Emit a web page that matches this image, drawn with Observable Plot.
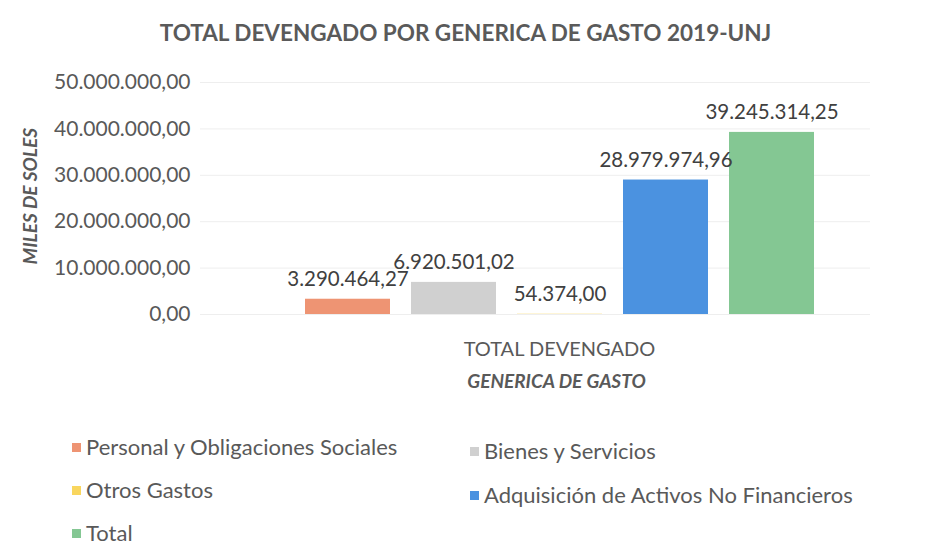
<!DOCTYPE html>
<html>
<head>
<meta charset="utf-8">
<script src="https://cdn.jsdelivr.net/npm/d3@7"></script>
<script src="https://cdn.jsdelivr.net/npm/@observablehq/plot@0.6"></script>
<style>
  html, body { margin: 0; padding: 0; background: #fff; }
  body { width: 951px; height: 557px; overflow: hidden; font-family: Lato, "Open Sans", sans-serif; color: #595959; }
  #title { height: 58px; line-height: 66px; text-align: center; font-size: 22.5px; font-weight: bold; color: #5a5a5a; padding-right: 20px; }
  #chart svg { display: block; }
  #legend { position: relative; height: 149px; }
  .item { position: absolute; display: flex; align-items: center; font-size: 22px; line-height: 26px; color: #595959; white-space: nowrap; }
  .sw { width: 9px; height: 9px; margin-right: 5px; }
</style>
</head>
<body>
<div id="title"></div>
<div id="chart"></div>
<div id="legend"></div>
<script>
const titleText = "TOTAL DEVENGADO POR GENERICA DE GASTO 2019-UNJ";
const categories = ["TOTAL DEVENGADO"];
const series = ["Personal y Obligaciones Sociales", "Bienes y Servicios", "Otros Gastos", "Adquisición de Activos No Financieros", "Total"];
const values = [3290464.27, 6920501.02, 54374.00, 28979974.96, 39245314.25];
const colors = ["#EE9473", "#D0D0D0", "#F9D65E", "#4B92E0", "#84C793"];
const yTicks = [0, 10000000, 20000000, 30000000, 40000000, 50000000];
const yTitle = "MILES DE SOLES";
const xTitle = "GENERICA DE GASTO";
const legendLabels = ["Personal y Obligaciones Sociales", "Bienes y Servicios", "Otros Gastos", "Adquisición de Activos No Financieros", "Total"];

const locale = d3.formatLocale({decimal: ",", thousands: ".", grouping: [3], currency: ["", ""]});
const fmt = locale.format(",.2f");

const data = series.map((s, i) => ({cat: categories[0], serie: s, valor: values[i]}));

document.getElementById("title").textContent = titleText;

const plot = Plot.plot({
  width: 951,
  height: 350,
  marginTop: 24,
  marginBottom: 94,
  marginLeft: 200,
  marginRight: 81,
  style: {fontFamily: "Lato, 'Open Sans', sans-serif", fontSize: "20px", color: "#595959", background: "#fff"},
  fx: {domain: categories, padding: 0, label: null},
  x: {domain: series, paddingInner: 0.2, paddingOuter: 0.74, align: 0.65, axis: null},
  y: {domain: [0, 50000000]},
  color: {domain: series, range: colors},
  marks: [
    Plot.gridY(yTicks, {stroke: "#eeeeee", strokeOpacity: 1}),
    Plot.axisY({ticks: yTicks, tickSize: 0, tickPadding: 10, tickFormat: fmt, label: null, fontSize: 21}),
    Plot.text([yTitle], {frameAnchor: "left", rotate: -90, dx: -170, dy: 66, text: d => d, fontStyle: "italic", fontWeight: "bold", fontSize: 19, fill: "#595959"}),
    Plot.axisFx({anchor: "bottom", tickSize: 0, tickPadding: 27, label: null, fontSize: 20, dx: 24}),
    Plot.barY(data, {fx: "cat", x: "serie", y: "valor", fill: "serie"}),
    Plot.text(data, {fx: "cat", x: "serie", y: "valor", text: d => fmt(d.valor), lineAnchor: "bottom", dy: -13, fill: "#404040", fontSize: 20.5}),
    Plot.text(categories, {fx: d => d, frameAnchor: "bottom", dx: 21, dy: 73, text: () => xTitle, fontStyle: "italic", fontWeight: "bold", fontSize: 19, fill: "#595959"})
  ]
});
document.getElementById("chart").appendChild(plot);

const legend = document.getElementById("legend");
const legendPos = [[72, 39], [470, 43], [72, 82], [470, 87], [72, 125]];
legendLabels.forEach((lab, i) => {
  const el = document.createElement("div");
  el.className = "item";
  el.style.left = legendPos[i][0] + "px";
  el.style.top = (legendPos[i][1] - 13) + "px";
  const sw = document.createElement("span");
  sw.className = "sw";
  sw.style.background = colors[i];
  el.appendChild(sw);
  el.appendChild(document.createTextNode(lab));
  legend.appendChild(el);
});
</script>
</body>
</html>
